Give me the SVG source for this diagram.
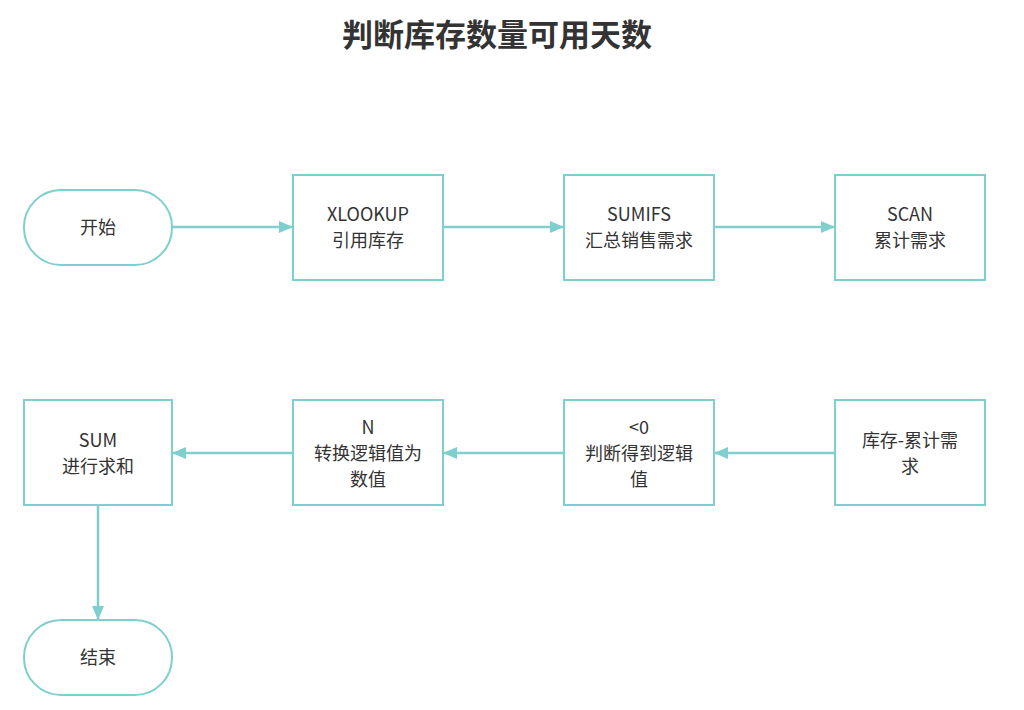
<svg xmlns="http://www.w3.org/2000/svg" width="1024" height="710" viewBox="0 0 1024 710">
<style>
.n{fill:#fff;stroke:#7fcfcf;stroke-width:2}
.t{font-family:"Noto Sans CJK SC",sans-serif;font-size:18px;fill:#333;text-anchor:middle}
.c{stroke:#7fcfcf;stroke-width:2.5;fill:none;marker-end:url(#a)}
</style>
<defs><marker id="a" markerWidth="14" markerHeight="12" refX="13" refY="6" orient="auto" markerUnits="userSpaceOnUse"><path d="M0,0 L14,6 L0,12 Z" fill="#7fcfcf"/></marker></defs>
<rect width="1024" height="710" fill="#fff"/>
<text x="497" y="46" font-family="'Noto Sans CJK SC',sans-serif" font-size="31" font-weight="bold" fill="#333" text-anchor="middle">判断库存数量可用天数</text>
<g id="connectors">
<path class="c" d="M172,227 H292"/>
<path class="c" d="M443,227 H563"/>
<path class="c" d="M714,227 H834"/>
<path class="c" d="M835,453 H715"/>
<path class="c" d="M564,453 H444"/>
<path class="c" d="M293,453 H173"/>
<path class="c" d="M98,505 V619"/>
</g>
<g id="start"><rect class="n" x="24" y="190" width="148" height="75" rx="37"/><text class="t" x="98" y="234">开始</text></g>
<g id="xlookup"><rect class="n" x="293" y="175" width="150" height="105"/><text class="t" x="368" y="221">XLOOKUP</text><text class="t" x="368" y="247">引用库存</text></g>
<g id="sumifs"><rect class="n" x="564" y="175" width="150" height="105"/><text class="t" x="639" y="221">SUMIFS</text><text class="t" x="639" y="247">汇总销售需求</text></g>
<g id="scan"><rect class="n" x="835" y="175" width="150" height="105"/><text class="t" x="910" y="221">SCAN</text><text class="t" x="910" y="247">累计需求</text></g>
<g id="diff"><rect class="n" x="835" y="400" width="150" height="105"/><text class="t" x="910" y="447">库存-累计需</text><text class="t" x="910" y="473">求</text></g>
<g id="lt0"><rect class="n" x="564" y="400" width="150" height="105"/><text class="t" x="639" y="434">&lt;0</text><text class="t" x="639" y="460">判断得到逻辑</text><text class="t" x="639" y="486">值</text></g>
<g id="n"><rect class="n" x="293" y="400" width="150" height="105"/><text class="t" x="368" y="434">N</text><text class="t" x="368" y="460">转换逻辑值为</text><text class="t" x="368" y="486">数值</text></g>
<g id="sum"><rect class="n" x="24" y="400" width="148" height="105"/><text class="t" x="98" y="447">SUM</text><text class="t" x="98" y="473">进行求和</text></g>
<g id="end"><rect class="n" x="24" y="620" width="148" height="75" rx="37"/><text class="t" x="98" y="664">结束</text></g>
</svg>
